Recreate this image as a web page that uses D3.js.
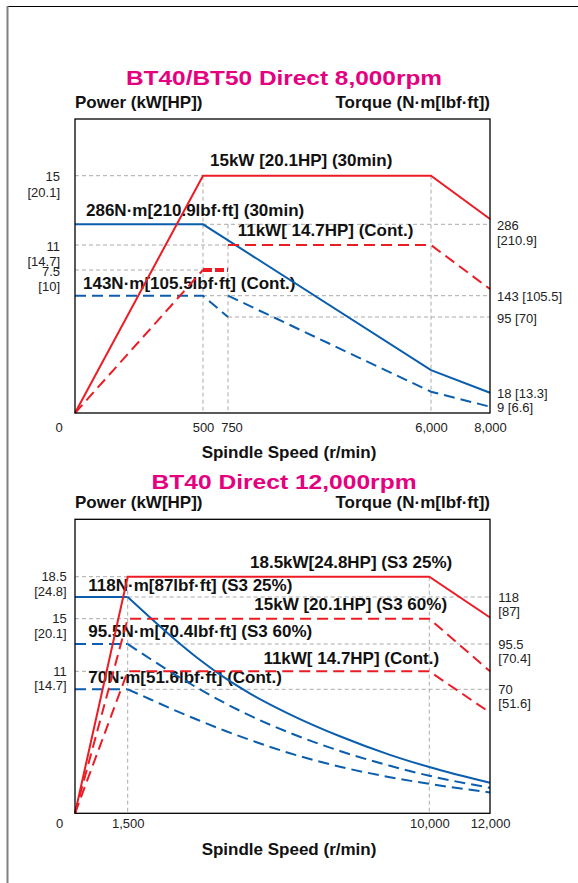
<!DOCTYPE html>
<html>
<head>
<meta charset="utf-8">
<script src="https://cdn.jsdelivr.net/npm/d3@7"></script>
<style>
    body { margin: 0; background: #fff; }
    svg { display: block; font-family: "Liberation Sans", Arial, Helvetica, sans-serif; }
</style>
</head>
<body>
<div id="chart-area"></div>
<script>
// ---- BT40/BT50 Direct 8,000rpm ----
const speedTicksA = [0, 500, 750, 6000, 8000];
const speedLabelsA = ['0', '500', '750', '6,000', '8,000'];
const powerTicksA = [7.5, 11, 15];
const powerLabelsA = [['7.5', '[10]'], ['11', '[14.7]'], ['15', '[20.1]']];
const torqueTicksA = [9, 18, 95, 143, 286];
const torqueLabelsA = [['9 [6.6]'], ['18 [13.3]'], ['95 [70]'], ['143 [105.5]'], ['286', '[210.9]']];

// [rpm, kW] and [rpm, N·m]
const power30minA = [[0, 0], [500, 15], [6000, 15], [8000, 12.5]];
const powerContRiseA = [[0, 0], [500, 7.5]];
const powerContStepA = [[500, 7.5], [750, 7.5]];
const powerContA = [[750, 11], [6000, 11], [8000, 6.5]];
const torque30minA = [[0, 286], [500, 286], [6000, 41], [8000, 18]];
const torqueContDropA = [[0, 143], [500, 143], [750, 95]];
const torqueContA = [[750, 143], [6000, 19], [8000, 9]];

// reference lines: [axis, value, from rpm, to rpm] and [rpm, axis, up to value]
const hGridA = [['power', 15, 0, 500], ['torque', 286, 500, 8000], ['power', 11, 0, 750],
    ['power', 7.5, 0, 500], ['torque', 143, 500, 8000], ['torque', 95, 750, 8000]];
const vGridA = [[500, 'power', 15], [750, 'torque', 286], [6000, 'power', 15]];

const notesA = ['15kW [20.1HP] (30min)', '286N·m[210.9lbf·ft] (30min)',
    '11kW[ 14.7HP] (Cont.)', '143N·m[105.5lbf·ft] (Cont.)'];

// ---- BT40 Direct 12,000rpm ----
const speedTicksB = [0, 1500, 10000, 12000];
const speedLabelsB = ['0', '1,500', '10,000', '12,000'];
const powerTicksB = [11, 15, 18.5];
const powerLabelsB = [['11', '[14.7]'], ['15', '[20.1]'], ['18.5', '[24.8]']];
const torqueTicksB = [70, 95.5, 118];
const torqueLabelsB = [['70', '[51.6]'], ['95.5', '[70.4]'], ['118', '[87]']];

const powerS325B = [[0, 0], [1500, 18.5], [10000, 18.5], [12000, 15.1]];
const powerS360B = [[0, 0], [1500, 15], [10000, 15], [12000, 11]];
const powerContB = [[0, 0], [1500, 11], [10000, 11], [12000, 7.8]];
const torqueS325B = [[0, 118], [1500, 118], [2130, 108.2], [2830, 97.7], [3540, 86.5], [4240, 76.4],
    [4950, 67.6], [6070, 55.9], [7480, 43.5], [8890, 33], [10000, 26.1], [12000, 17.2]];
const torqueS360B = [[0, 95.5], [1500, 95.5], [2130, 87.2], [2830, 78.3], [3540, 69.9], [4240, 62.2],
    [4950, 55.1], [6070, 45.4], [7480, 35.2], [8890, 26.8], [10000, 21.2], [12000, 14.4]];
const torqueContB = [[0, 70], [1500, 70], [2130, 64.4], [2830, 58.1], [3540, 52.2], [4240, 46.6],
    [4950, 41.4], [6070, 33.9], [7480, 26.3], [8890, 20.4], [10000, 16.6], [12000, 11.8]];

const hGridB = [['power', 18.5, 0, 1500], ['torque', 118, 1500, 12000], ['power', 15, 0, 1500],
    ['torque', 95.5, 1500, 12000], ['power', 11, 0, 1500], ['torque', 70, 1500, 12000]];
const vGridB = [[1500, 'power', 18.5], [10000, 'power', 18.5]];

const notesB = ['18.5kW[24.8HP] (S3 25%)', '118N·m[87lbf·ft] (S3 25%)', '15kW [20.1HP] (S3 60%)',
    '95.5N·m[70.4lbf·ft] (S3 60%)', '11kW[ 14.7HP] (Cont.)', '70N·m[51.6lbf·ft] (Cont.)'];

const RED = '#ec1c24';
const BLUE = '#0b5dad';
const MAGENTA = '#e4007f';
const DASH = '11,6';

class SpeedChart {
    constructor(svg, config) {
        this.svg = svg;
        this.config = config;
        this.initVis();
    }

    initVis() {
        let vis = this;
        let c = vis.config;

        vis.g = vis.svg.append('g')
            .attr('transform', `translate(${c.left}, ${c.top})`);

        // piecewise scales, the drawing is not to scale
        vis.x = d3.scaleLinear().domain(c.speedTicks).range(c.xRange);
        vis.y = {
            power: d3.scaleLinear().domain([0].concat(c.powerTicks)).range(c.powerRange),
            torque: d3.scaleLinear().domain([0].concat(c.torqueTicks)).range(c.torqueRange)
        };

        vis.updateVis();
    }

    updateVis() {
        let vis = this;
        let c = vis.config;

        // title
        vis.svg.append('text')
            .attr('x', c.titleX - c.titleWidth / 2)
            .attr('y', c.titleY)
            .attr('textLength', c.titleWidth)
            .attr('lengthAdjust', 'spacingAndGlyphs')
            .style('font-size', '21px')
            .style('font-weight', 'bold')
            .style('fill', MAGENTA)
            .text(c.title);

        // axis titles
        vis.g.append('text')
            .attr('x', 0).attr('y', c.axisTitleY)
            .attr('class', 'bold-lab')
            .text('Power (kW[HP])');

        vis.g.append('text')
            .attr('x', c.width).attr('y', c.axisTitleY)
            .attr('class', 'bold-lab')
            .style('text-anchor', 'end')
            .text('Torque (N·m[lbf·ft])');

        vis.g.append('text')
            .attr('x', c.xTitleX).attr('y', c.height + c.xTitleY)
            .attr('class', 'bold-lab')
            .style('text-anchor', 'middle')
            .text('Spindle Speed (r/min)');

        // dashed reference lines
        vis.g.selectAll('.h-grid')
            .data(c.hGrid)
            .enter()
            .append('line')
            .attr('class', 'grid')
            .attr('x1', d => vis.x(d[2]))
            .attr('x2', d => vis.x(d[3]))
            .attr('y1', d => vis.y[d[0]](d[1]))
            .attr('y2', d => vis.y[d[0]](d[1]));

        vis.g.selectAll('.v-grid')
            .data(c.vGrid)
            .enter()
            .append('line')
            .attr('class', 'grid')
            .attr('x1', d => vis.x(d[0]))
            .attr('x2', d => vis.x(d[0]))
            .attr('y1', d => vis.y[d[1]](d[2]))
            .attr('y2', c.height);

        // x axis
        let xAxis = d3.axisBottom(vis.x)
            .tickValues(c.speedTicks)
            .tickSize(0)
            .tickFormat((d, i) => c.speedLabels[i]);

        vis.g.append('g')
            .attr('class', 'tick-axis')
            .attr('transform', `translate(0, ${c.height})`)
            .call(xAxis)
            .call(g => g.select('.domain').remove())
            .selectAll('text')
            .attr('y', c.tickLabelY)
            .attr('dy', null)
            .attr('dx', d => c.xLabelDx[d] || 0);

        // left (power) and right (torque) axes with two-line labels
        let leftAxis = d3.axisLeft(vis.y.power)
            .tickValues(c.powerTicks)
            .tickSize(0)
            .tickFormat('');

        let rightAxis = d3.axisRight(vis.y.torque)
            .tickValues(c.torqueTicks)
            .tickSize(0)
            .tickFormat('');

        vis.g.append('g')
            .attr('class', 'tick-axis')
            .call(leftAxis)
            .call(g => g.select('.domain').remove())
            .selectAll('text')
            .attr('x', c.leftLabelX)
            .each(function(d, i) { addLines(this, c.powerLabels[i], c.leftLabelX); });

        vis.g.append('g')
            .attr('class', 'tick-axis')
            .attr('transform', `translate(${c.width}, 0)`)
            .call(rightAxis)
            .call(g => g.select('.domain').remove())
            .selectAll('text')
            .attr('x', c.rightLabelX)
            .each(function(d, i) { addLines(this, c.torqueLabels[i], c.rightLabelX); });

        function addLines(node, lines, x) {
            let t = d3.select(node).attr('dy', null).attr('y', 0);
            t.selectAll('tspan')
                .data(lines)
                .enter()
                .append('tspan')
                .attr('x', x)
                .attr('y', (d, j) => c.labelDy[j])
                .text(d => d);
        }

        // curve annotations
        vis.g.selectAll('.note')
            .data(c.notes)
            .enter()
            .append('text')
            .attr('class', 'bold-lab')
            .attr('x', d => vis.x(d.at[0]) + d.dx)
            .attr('y', d => vis.y[d.axis](d.at[1]) + d.dy)
            .text(d => d.text);

        // power / torque curves
        c.series.forEach(s => {
            let line = d3.line()
                .x(d => vis.x(d[0]))
                .y(d => vis.y[s.axis](d[1]));

            // keep the knee sharp, smooth only the fall-off
            let parts = s.knee ? [[s.data.slice(0, s.knee + 1), d3.curveLinear],
                                  [s.data.slice(s.knee), d3.curveMonotoneX]]
                               : [[s.data, d3.curveLinear]];

            parts.forEach(p => {
                vis.g.append('path')
                    .attr('d', line.curve(p[1])(p[0]))
                    .style('fill', 'none')
                    .style('stroke', s.color)
                    .style('stroke-width', s.width || 2)
                    .style('stroke-dasharray', s.dash || null);
            });
        });

        // plot frame
        vis.g.append('rect')
            .attr('width', c.width)
            .attr('height', c.height)
            .style('fill', 'none')
            .style('stroke', '#000')
            .style('stroke-width', 1.3);
    }
}

// page
let svg = d3.select('#chart-area').append('svg')
    .attr('width', 578)
    .attr('height', 883);

svg.append('style').text(`
    .bold-lab { font-size: 17px; font-weight: bold; fill: #111; }
    .tick-axis text { font-size: 13px; fill: #222; font-family: "Liberation Sans", Arial, sans-serif; }
    .grid { stroke: #aaa; stroke-width: 1; stroke-dasharray: 4,3; }
`);

svg.append('line')
    .attr('x1', 8).attr('x2', 578).attr('y1', 6.5).attr('y2', 6.5)
    .style('stroke', '#000').style('stroke-width', 1.2);

svg.append('line')
    .attr('x1', 7.5).attr('x2', 7.5).attr('y1', 6).attr('y2', 883)
    .style('stroke', '#808080').style('stroke-width', 2);

let chartA = new SpeedChart(svg, {
    title: 'BT40/BT50 Direct 8,000rpm',
    titleX: 284, titleY: 85, titleWidth: 316,
    left: 75, top: 119, width: 415, height: 294,
    axisTitleY: -11.5, xTitleX: 214, xTitleY: 44.5, tickLabelY: 18.5,
    xLabelDx: {0: -16.5, 750: 3.5},
    leftLabelX: -15, rightLabelX: 7, labelDy: [5, 20.5],
    speedTicks: speedTicksA, speedLabels: speedLabelsA, xRange: [0, 128, 153, 356, 415],
    powerTicks: powerTicksA, powerLabels: powerLabelsA, powerRange: [294, 151, 126, 56.7],
    torqueTicks: torqueTicksA, torqueLabels: torqueLabelsA,
    torqueRange: [294, 287.7, 273.7, 198, 176.7, 105.3],
    hGrid: hGridA, vGrid: vGridA,
    notes: [
        {axis: 'power', at: [500, 15], dx: 7, dy: -9.7},
        {axis: 'torque', at: [0, 286], dx: 11, dy: -8.6},
        {axis: 'power', at: [750, 11], dx: 9.7, dy: -9},
        {axis: 'torque', at: [0, 143], dx: 8, dy: -6.7}
    ].map((d, i) => Object.assign({text: notesA[i]}, d)),
    series: [
        {data: torque30minA, axis: 'torque', color: BLUE},
        {data: torqueContDropA, axis: 'torque', color: BLUE, dash: DASH},
        {data: torqueContA, axis: 'torque', color: BLUE, dash: DASH},
        {data: power30minA, axis: 'power', color: RED},
        {data: powerContRiseA, axis: 'power', color: RED, dash: DASH},
        {data: powerContStepA, axis: 'power', color: RED, dash: '9,3', width: 4},
        {data: powerContA, axis: 'power', color: RED, dash: DASH}
    ]
});

let chartB = new SpeedChart(svg, {
    title: 'BT40 Direct 12,000rpm',
    titleX: 284, titleY: 489, titleWidth: 265,
    left: 75, top: 519.3, width: 415, height: 294,
    axisTitleY: -11, xTitleX: 214, xTitleY: 41.7, tickLabelY: 15,
    xLabelDx: {0: -16},
    leftLabelX: -8.3, rightLabelX: 8.3, labelDy: [4, 18.5],
    speedTicks: speedTicksB, speedLabels: speedLabelsB, xRange: [0, 52.7, 354.3, 415],
    powerTicks: powerTicksB, powerLabels: powerLabelsB, powerRange: [294, 152, 99.4, 57.4],
    torqueTicks: torqueTicksB, torqueLabels: torqueLabelsB, torqueRange: [294, 170, 124.7, 77.7],
    hGrid: hGridB, vGrid: vGridB,
    notes: [
        {axis: 'power', at: [1500, 18.5], dx: 122.3, dy: -8.7},
        {axis: 'torque', at: [0, 118], dx: 13.3, dy: -6.3},
        {axis: 'power', at: [1500, 15], dx: 126.6, dy: -8.7},
        {axis: 'torque', at: [0, 95.5], dx: 13.3, dy: -7.3},
        {axis: 'power', at: [1500, 11], dx: 135.7, dy: -7.3},
        {axis: 'torque', at: [0, 70], dx: 13.3, dy: -6.6}
    ].map((d, i) => Object.assign({text: notesB[i]}, d)),
    series: [
        {data: torqueS325B, axis: 'torque', color: BLUE, knee: 1},
        {data: torqueS360B, axis: 'torque', color: BLUE, dash: DASH, knee: 1},
        {data: torqueContB, axis: 'torque', color: BLUE, dash: DASH, knee: 1},
        {data: powerS325B, axis: 'power', color: RED},
        {data: powerS360B, axis: 'power', color: RED, dash: DASH},
        {data: powerContB, axis: 'power', color: RED, dash: DASH}
    ]
});
</script>
</body>
</html>
